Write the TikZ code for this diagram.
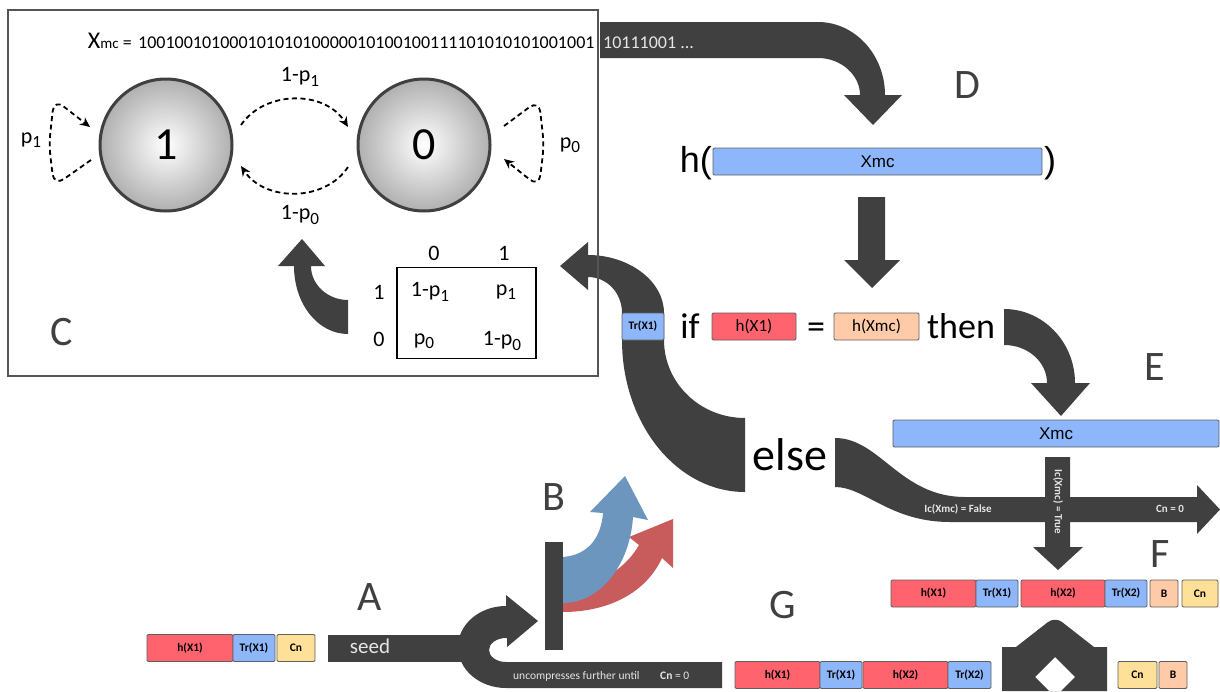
\documentclass[tikz,border=0pt]{standalone}
\usepackage{fontspec}
\usepackage{graphicx}
\setmainfont{Carlito}
\newfontfamily\arialf{Liberation Sans}
\usetikzlibrary{calc,arrows.meta}
\definecolor{dk}{RGB}{64,64,64}
\definecolor{lt}{RGB}{230,230,230}
\definecolor{bxline}{RGB}{95,95,95}
\definecolor{frame}{RGB}{85,85,85}
\definecolor{rd}{RGB}{255,99,110}
\definecolor{bl}{RGB}{142,182,250}
\definecolor{pc}{RGB}{255,202,168}
\definecolor{yl}{RGB}{255,224,152}
\definecolor{barrow}{RGB}{108,150,190}
\definecolor{rarrow}{RGB}{200,92,92}
\newcommand\sbs[1]{\raisebox{-0.4ex}{\scalebox{0.78}{#1}}}
\tikzset{
  lbl/.style={font=\fontsize{22}{24}\selectfont, inner sep=0},
  big/.style={font=\fontsize{42}{42}\selectfont, text=dk, inner sep=0, anchor=base},
  bx/.style={draw=bxline, line width=0.9, rounded corners=1.2, inner sep=0, minimum height=27, font=\bfseries\fontsize{11.5}{11.5}\selectfont},
  ifbx/.style={draw=bxline, line width=0.9, rounded corners=1.2, inner sep=0, minimum height=27, font=\fontsize{17}{17}\selectfont},
  wide/.style={draw=bxline, line width=0.9, rounded corners=1.2, inner sep=0, minimum height=27, fill=bl, font=\arialf\fontsize{17}{17}\selectfont},
  circ/.style={circle, draw=dk, line width=3, minimum size=132, inner color=white, outer color=gray!62, font=\fontsize{46}{46}\selectfont},
  dsh/.style={line width=1.8, dash pattern=on 5pt off 3.5pt, -{Stealth[length=10,width=9]}},
  wt/.style={text=lt, inner sep=0},
}
\begin{document}
\begin{tikzpicture}[x=1pt,y=-1pt]
\path[use as bounding box] (0,0) rectangle (1220,691);

% ---------- dark block arrows ----------
% C -> D
\fill[dk] (600,22) -- (818,22) .. controls (855,22) and (885,55) .. (885,95) -- (902,95) -- (873,125) -- (844,95) -- (860,95) .. controls (860,75) and (841,58) .. (818,58) -- (600,58) -- cycle;
% D -> if
\fill[dk] (858,197) -- (885,197) -- (885,260) -- (900,260) -- (872,288) -- (844,260) -- (858,260) -- cycle;
% then -> E
\fill[dk] (1004,309) .. controls (1043,309) and (1075,342) .. (1075,383) -- (1090,383) -- (1061,416) -- (1031,383) -- (1047,383) .. controls (1047,362) and (1028,345) .. (1004,345) -- cycle;
% else -> back to C
\fill[dk] (560,266) -- (588,242) -- (588,255) .. controls (629,255) and (664,281) .. (664,313) -- (664,340) .. controls (664,383) and (700,418) .. (745,418) -- (745,492) .. controls (677,492) and (622,424) .. (622,340) -- (622,313) .. controls (622,293) and (607,277) .. (588,277) -- (588,290) -- cycle;
% else -> right
\fill[dk] (835,438) .. controls (880,438) and (900,497) .. (965,497) -- (1197,497) -- (1197,485) -- (1220,509.5) -- (1197,534) -- (1197,522) -- (950,522) .. controls (890,522) and (865,487) .. (835,487) -- cycle;
% true -> F
\fill[dk] (1045,457) -- (1070,457) -- (1070,547) -- (1083,547) -- (1058,570) -- (1033,547) -- (1045,547) -- cycle;
% matrix -> chain (C)
\fill[dk] (302,239) -- (325,266) -- (311,266) .. controls (311,285) and (328,300) .. (348,300) -- (348,334) .. controls (318,334) and (294,304) .. (294,266) -- (278,266) -- cycle;
% seed U-turn
\fill[dk] (328,635) rectangle (470,662);
\fill[dk] (722,662) -- (506,662) .. controls (496.6,662) and (489,656.6) .. (489,650) .. controls (489,643.4) and (496.6,638) .. (506,638) -- (507,638) -- (507,647) -- (538,621) -- (506,595) -- (506,606) .. controls (479.5,606) and (458,624.4) .. (458,647) .. controls (458,669.6) and (479.5,688) .. (506,688) -- (722,688) -- cycle;
% B bar
\fill[dk] (545,542) rectangle (563,650);
% red and blue arrows
\fill[rarrow] (563,588) .. controls (595,588) and (625,570) .. (639,545) -- (629,537) -- (673,519) -- (673,568) -- (662,558) .. controls (645,595) and (605,612) .. (563,612) -- cycle;
\fill[barrow] (563,557) .. controls (588,555) and (601,538) .. (603,513) -- (590,512) -- (625,476) -- (648,520) -- (633,517) .. controls (630,565) and (600,603) .. (563,603) -- cycle;
% G decompress shape
\fill[dk, even odd rule] (1002,691) -- (1002,647) -- (1016,647) -- (1048,622) .. controls (1052,619) and (1058,619) .. (1062,622) -- (1094,647) -- (1107,647) -- (1107,691) -- cycle (1055,657) -- (1075,677) -- (1061,691) -- (1049,691) -- (1035,677) -- cycle;

% ---------- C box ----------
\draw[frame, line width=1.6] (8,10) rectangle (598,376);
\node[anchor=base east, inner sep=0] (xlab) at (132,48) {{\fontsize{24}{24}\selectfont X}{\fontsize{15}{15}\selectfont mc}\fontsize{18}{18}\selectfont\ =\ };
\node[anchor=base west, inner sep=0, font=\fontsize{18}{18}\selectfont] (bits) at (138,48) {10010010100010101010000010100100111101010101001001};
\node[wt, anchor=base west, font=\fontsize{18}{18}\selectfont] (bits2) at (603,48) {10111001 ...};

\node[circ] (one) at (166,145) {1};
\node[circ] (zero) at (424,145) {0};
\draw[dsh, rounded corners=12] ($(one)+(-75,15)$) -- ($(one)+(-112,41)$) -- ($(one)+(-117,0)$) -- ($(one)+(-112,-46)$) -- ($(one)+(-76,-18)$);
\draw[dsh, rounded corners=12] ($(zero)+(80,-19)$) -- ($(zero)+(115,-45)$) -- ($(zero)+(120,0)$) -- ($(zero)+(115,42)$) -- ($(zero)+(80,14)$);
\draw[dsh] ($(one)+(75,-20)$) .. controls (265,90) and (325,90) .. ($(zero)+(-76,-18)$);
\draw[dsh] ($(zero)+(-76,22)$) .. controls (325,202) and (265,202) .. ($(one)+(75,21)$);
\node[lbl] (p1l) at (31,140) {p\sbs{1}};
\node[lbl] (p0l) at (570,145) {p\sbs{0}};
\node[lbl] (t10) at (300,77) {1-p\sbs{1}};
\node[lbl] (t01) at (300,215) {1-p\sbs{0}};

\node[draw=black, line width=1.5, minimum width=139, minimum height=91, inner sep=0] (mat) at (466.5,313) {};
\node[lbl] (c0) at (434,253) {0};
\node[lbl] (c1) at (504,253) {1};
\node[lbl] (r1) at (379,292) {1};
\node[lbl] (r0) at (379,339) {0};
\node[lbl] (m11) at (430,292) {1-p\sbs{1}};
\node[lbl] (m12) at (506,292) {p\sbs{1}};
\node[lbl] (m21) at (424,341) {p\sbs{0}};
\node[lbl] (m22) at (502,341) {1-p\sbs{0}};

% ---------- letters ----------
\node[big] (LA) at (370,610) {A};
\node[big] (LB) at (554,510) {B};
\node[big] (LC) at (62,345) {C};
\node[big] (LD) at (967,98) {D};
\node[big] (LE) at (1155,380) {E};
\node[big] (LF) at (1160,567) {F};
\node[big] (LG) at (783,618) {G};

% ---------- D ----------
\node[wide, minimum width=329] (dbar) at (877.5,161.5) {Xmc};
\node[anchor=base east, inner sep=0, font=\arialf\fontsize{36}{36}\selectfont] (hopen) at (712,172) {h(};
\node[anchor=base west, inner sep=0, font=\arialf\fontsize{36}{36}\selectfont] (hclose) at (1044,172) {)};

% ---------- if row ----------
\node[bx, fill=bl, minimum width=42] (trif) at (643,326.5) {Tr(X1)};
\node[anchor=base, inner sep=0, font=\fontsize{36}{36}\selectfont] (if) at (690,338) {if};
\node[ifbx, fill=rd, minimum width=84] (hx1) at (754,326.5) {h(X1)};
\node[anchor=base, inner sep=0, font=\fontsize{36}{36}\selectfont] (eq) at (816,338) {=};
\node[ifbx, fill=pc, minimum width=85] (hxmc) at (876.5,326.5) {h(Xmc)};
\node[anchor=base, inner sep=0, font=\fontsize{36}{36}\selectfont] (then) at (961,338) {then};
\node[anchor=base, inner sep=0, font=\fontsize{46}{46}\selectfont] (else) at (790,470) {else};

% ---------- E ----------
\node[wide, minimum width=326] (ebar) at (1056,433.5) {Xmc};
\node[wt, font=\bfseries\fontsize{11}{11}\selectfont] (fls) at (958,509) {Ic(Xmc) = False};
\node[wt, font=\bfseries\fontsize{11}{11}\selectfont] (cn0) at (1170,509) {Cn = 0};
\node[wt, rotate=-90, font=\bfseries\fontsize{11}{11}\selectfont] (tru) at (1058,502) {Ic(Xmc) = True};

% ---------- F row ----------
\node[bx, fill=rd, minimum width=85] (f1) at (933.5,593.5) {h(X1)};
\node[bx, fill=bl, minimum width=42] (f2) at (997,593.5) {Tr(X1)};
\node[bx, fill=rd, minimum width=84] (f3) at (1063,593.5) {h(X2)};
\node[bx, fill=bl, minimum width=42] (f4) at (1126,593.5) {Tr(X2)};
\node[bx, fill=pc, minimum width=28] (f5) at (1164,593.5) {B};
\node[bx, fill=yl, minimum width=36] (f6) at (1200,593.5) {Cn};

% ---------- G row ----------
\node[bx, fill=rd, minimum width=85] (g1) at (777.5,675) {h(X1)};
\node[bx, fill=bl, minimum width=42] (g2) at (841,675) {Tr(X1)};
\node[bx, fill=rd, minimum width=85] (g3) at (905.5,675) {h(X2)};
\node[bx, fill=bl, minimum width=43] (g4) at (969.5,675) {Tr(X2)};
\node[bx, fill=yl, minimum width=39] (g5) at (1137.5,675) {Cn};
\node[bx, fill=pc, minimum width=28] (g6) at (1173,675) {B};

% ---------- A row ----------
\node[bx, fill=rd, minimum width=86] (a1) at (190,648) {h(X1)};
\node[bx, fill=bl, minimum width=42] (a2) at (254,648) {Tr(X1)};
\node[bx, fill=yl, minimum width=38] (a3) at (296,648) {Cn};
\node[wt, anchor=base, font=\fontsize{21}{21}\selectfont] (seed) at (370,653) {seed};
\node[wt, anchor=base west, font=\fontsize{11.5}{11.5}\selectfont] (unc) at (513,679) {uncompresses further until};
\node[wt, anchor=base west, font=\fontsize{11.5}{11.5}\selectfont] (unc2) at (660,679) {\textbf{Cn} = 0};
\end{tikzpicture}
\end{document}
